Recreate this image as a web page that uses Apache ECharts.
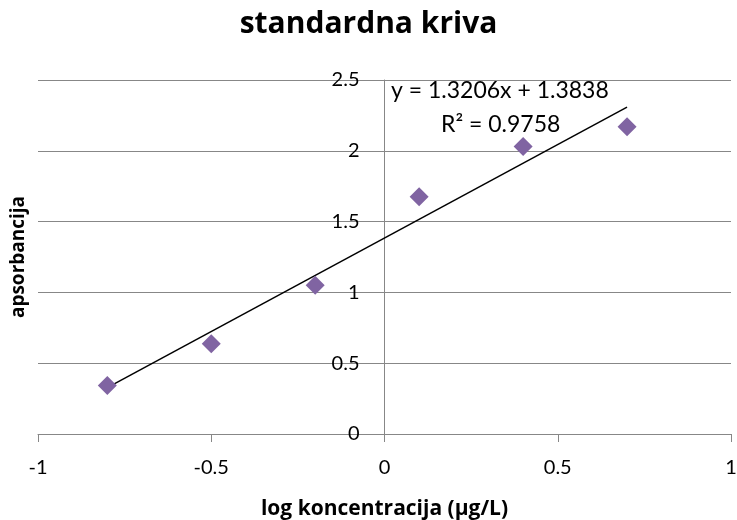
<!DOCTYPE html>
<html>
<head>
<meta charset="utf-8">
<script src="https://cdn.jsdelivr.net/npm/echarts@6/dist/echarts.min.js"></script>
<style>
html,body{margin:0;padding:0;background:#fff;}
#chart{width:737px;height:520px;}
</style>
</head>
<body>
<div id="chart"></div>
<script>
// Data
var xValues = [-0.8, -0.5, -0.2, 0.1, 0.4, 0.7];
var yValues = [0.343, 0.638, 1.05, 1.675, 2.03, 2.17];
// Trend line given in the chart
var trendSlope = 1.3206;
var trendIntercept = 1.3838;
var trendRange = [-0.8, 0.7];
var equationText = 'y = 1.3206x + 1.3838';
var r2Text = 'R² = 0.9758';
var titleText = 'standardna kriva';
var xAxisName = 'log koncentracija (µg/L)';
var yAxisName = 'apsorbancija';

var NUMFONT = 'Lato, "Open Sans", sans-serif';
var BOLDFONT = '"Open Sans", Lato, sans-serif';
var points = xValues.map(function (x, i) { return [x, yValues[i]]; });
var trend = trendRange.map(function (x) { return [x, trendSlope * x + trendIntercept]; });

var GRID_LEFT = 38, GRID_RIGHT = 6;
var chartW = 737;
// y axis sits at x = 0, i.e. in the middle of the x range [-1, 1]
var yAxisOffset = -(chartW - GRID_LEFT - GRID_RIGHT) / 2;

var chart = echarts.init(document.getElementById('chart'));
chart.setOption({
  animation: false,
  backgroundColor: '#fff',
  textStyle: { fontFamily: NUMFONT },
  title: {
    text: titleText,
    left: 'center',
    top: 4,
    textStyle: { fontFamily: BOLDFONT, fontSize: 30, fontWeight: 'bold', color: '#000' }
  },
  grid: { left: GRID_LEFT, right: GRID_RIGHT, top: 80, bottom: 86, containLabel: false, outerBoundsMode: 'none' },
  xAxis: {
    type: 'value',
    min: -1, max: 1, interval: 0.5,
    name: xAxisName,
    nameLocation: 'middle',
    nameGap: 65,
    nameTextStyle: { fontFamily: BOLDFONT, fontSize: 21, fontWeight: 'bold', color: '#000' },
    axisLine: { onZero: false, lineStyle: { color: '#878787', width: 1 } },
    axisTick: { show: true, length: 8, lineStyle: { color: '#878787' } },
    axisLabel: { fontSize: 20, color: '#000', margin: 24, fontFamily: NUMFONT },
    splitLine: { show: false }
  },
  yAxis: {
    type: 'value',
    min: 0, max: 2.5, interval: 0.5,
    offset: yAxisOffset,
    name: yAxisName,
    nameLocation: 'middle',
    nameGap: 356,
    nameRotate: 90,
    nameTextStyle: { fontFamily: BOLDFONT, fontSize: 19, fontWeight: 'bold', color: '#000' },
    axisLine: { show: true, onZero: false, lineStyle: { color: '#878787', width: 1 } },
    axisTick: { show: true, length: 7, lineStyle: { color: '#878787' } },
    axisLabel: { fontSize: 20, color: '#000', margin: 25, fontFamily: NUMFONT },
    splitLine: { show: true, lineStyle: { color: '#878787', width: 1 } }
  },
  series: [
    {
      type: 'line',
      data: trend,
      symbol: 'none',
      lineStyle: { color: '#000', width: 1.5 },
      silent: true,
      z: 3
    },
    {
      type: 'scatter',
      data: points,
      symbol: 'diamond',
      symbolSize: 19,
      itemStyle: { color: '#8064A2', opacity: 1 },
      z: 4
    }
  ],
  graphic: [
    {
      type: 'text',
      left: 391,
      top: 79,
      style: { text: equationText, fontFamily: NUMFONT, fontSize: 23, fill: '#000' }
    },
    {
      type: 'text',
      left: 441,
      top: 113,
      style: { text: r2Text, fontFamily: NUMFONT, fontSize: 23, fill: '#000' }
    }
  ]
});
</script>
</body>
</html>
